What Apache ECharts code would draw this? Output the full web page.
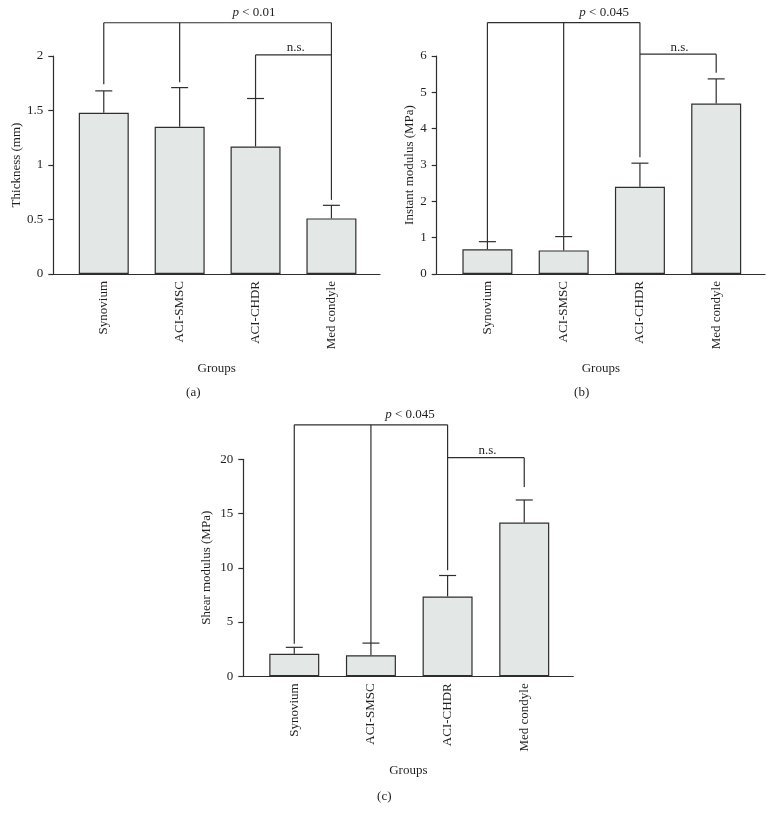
<!DOCTYPE html>
<html><head><meta charset="utf-8">
<script src="https://cdn.jsdelivr.net/npm/echarts@6/dist/echarts.min.js"></script>
<style>html,body{margin:0;padding:0;background:#fff}#c{width:774px;height:822px}</style>
</head><body><div id="c"></div>
<script>
// ---------- data ----------
const groups = ['Synovium', 'ACI-SMSC', 'ACI-CHDR', 'Med condyle'];
const groupPos = [1, 2, 3, 4];

const thicknessMean = [1.48, 1.35, 1.17, 0.51];
const thicknessErrTop = [1.68, 1.71, 1.61, 0.63];
const thicknessTicks = [0, 0.5, 1, 1.5, 2];

const instantMean = [0.68, 0.65, 2.40, 4.69];
const instantErrTop = [0.89, 1.03, 3.05, 5.37];
const instantTicks = [0, 1, 2, 3, 4, 5, 6];

const shearMean = [2.08, 1.93, 7.36, 14.17];
const shearErrTop = [2.67, 3.06, 9.29, 16.25];
const shearTicks = [0, 5, 10, 15, 20];

// significance brackets: level, legs [group position, lower end]
const thicknessSigLevel = 2.305;
const thicknessSigLegs = [[1, 1.74], [2, 1.76], [4, 0.68]];
const thicknessNsLevel = 2.01;
const thicknessNsLegs = [[3, 1.61], [4, 2.01]];

const instantSigLevel = 6.92;
const instantSigLegs = [[1, 0.90], [2, 1.05], [3, 3.21]];
const instantNsLevel = 6.05;
const instantNsLegs = [[3, 6.05], [4, 5.54]];

const shearSigLevel = 23.18;
const shearSigLegs = [[1, 3.0], [2, 3.06], [3, 9.78]];
const shearNsLevel = 20.15;
const shearNsLegs = [[3, 20.15], [4, 17.44]];

const sigTexts = ['p < 0.01', 'p < 0.045', 'p < 0.045'];
const sigTextX = [2.98, 2.53, 2.51];
const nsTextX = [3.53, 3.52, 3.52];

const yNames = ['Thickness (mm)', 'Instant modulus (MPa)', 'Shear modulus (MPa)'];
const panelTags = ['(a)', '(b)', '(c)'];

// ---------- layout ----------
const FONT = '"Liberation Serif", "DejaVu Serif", serif';
const INK = '#2e2e2e';
const TXT = '#1f1f1f';
const grids = [
  {left: 53.3, top: 56, width: 326.7, height: 218},
  {left: 436.7, top: 56, width: 328.3, height: 218},
  {left: 243.3, top: 459.3, width: 330, height: 217}
];
const yNameGaps = [30, 20, 30];

const panels = [
  {mean: thicknessMean, top: thicknessErrTop, ticks: thicknessTicks,
   sigLevel: thicknessSigLevel, sigLegs: thicknessSigLegs, nsLevel: thicknessNsLevel, nsLegs: thicknessNsLegs},
  {mean: instantMean, top: instantErrTop, ticks: instantTicks,
   sigLevel: instantSigLevel, sigLegs: instantSigLegs, nsLevel: instantNsLevel, nsLegs: instantNsLegs},
  {mean: shearMean, top: shearErrTop, ticks: shearTicks,
   sigLevel: shearSigLevel, sigLegs: shearSigLegs, nsLevel: shearNsLevel, nsLegs: shearNsLegs}
];

function bracketSegments(level, legs) {
  const xs = legs.map(l => l[0]);
  const segs = [[Math.min(...xs), level, Math.max(...xs), level]];
  legs.forEach(l => { if (l[1] !== level) segs.push([l[0], level, l[0], l[1]]); });
  return segs;
}

const option = {
  animation: false,
  backgroundColor: '#fff',
  textStyle: {fontFamily: FONT},
  grid: grids.map(g => Object.assign({containLabel: false}, g)),
  xAxis: grids.map((g, i) => ({
    type: 'value', gridIndex: i, min: 0.335, max: 4.64,
    name: 'Groups', nameLocation: 'middle', nameGap: 88,
    nameTextStyle: {fontFamily: FONT, fontSize: 13, color: TXT},
    axisLine: {lineStyle: {color: INK, width: 1.2}},
    axisTick: {show: false},
    splitLine: {show: false},
    axisLabel: {customValues: groupPos, rotate: 90, margin: 7,
      formatter: v => groups[Math.round(v) - 1],
      fontFamily: FONT, fontSize: 13, color: TXT}
  })),
  yAxis: panels.map((p, i) => ({
    type: 'value', gridIndex: i,
    min: p.ticks[0], max: p.ticks[p.ticks.length - 1], interval: p.ticks[1] - p.ticks[0],
    name: yNames[i], nameLocation: 'middle', nameGap: yNameGaps[i],
    nameTextStyle: {fontFamily: FONT, fontSize: 13, color: TXT},
    axisLine: {show: true, lineStyle: {color: INK, width: 1.2}},
    axisTick: {show: true, length: 5, lineStyle: {color: INK, width: 1.2}},
    splitLine: {show: false},
    axisLabel: {margin: 10, fontFamily: FONT, fontSize: 13, color: TXT}
  })),
  graphic: panelTags.map((t, i) => ({
    type: 'text', style: {text: t, font: '13px ' + FONT, fill: TXT, textAlign: 'center', textVerticalAlign: 'middle'},
    x: [193.3, 581.7, 384.3][i], y: [393, 393, 796.7][i]
  })),
  series: []
};

panels.forEach((p, i) => {
  option.series.push({
    type: 'bar', xAxisIndex: i, yAxisIndex: i, barWidth: 50,
    data: groupPos.map((x, k) => [x, p.mean[k]]),
    itemStyle: {color: '#e3e8e6', borderColor: INK, borderWidth: 1.2},
    z: 2
  });
  option.series.push({
    type: 'custom', xAxisIndex: i, yAxisIndex: i,
    data: groupPos.map((x, k) => [x, p.mean[k], p.top[k]]),
    encode: {x: 0, y: [1, 2]},
    renderItem: (params, api) => {
      const b = api.coord([api.value(0), api.value(1)]);
      const t = api.coord([api.value(0), api.value(2)]);
      const st = {stroke: INK, lineWidth: 1.2};
      return {type: 'group', children: [
        {type: 'line', shape: {x1: b[0], y1: b[1], x2: t[0], y2: t[1]}, style: st},
        {type: 'line', shape: {x1: t[0] - 8.5, y1: t[1], x2: t[0] + 8.5, y2: t[1]}, style: st}
      ]};
    },
    z: 3
  });
  const segs = bracketSegments(p.sigLevel, p.sigLegs).concat(bracketSegments(p.nsLevel, p.nsLegs));
  option.series.push({
    type: 'custom', xAxisIndex: i, yAxisIndex: i, clip: false,
    data: segs,
    encode: {x: [0, 2], y: [1, 3]},
    renderItem: (params, api) => {
      const a = api.coord([api.value(0), api.value(1)]);
      const b = api.coord([api.value(2), api.value(3)]);
      return {type: 'line', shape: {x1: a[0], y1: a[1], x2: b[0], y2: b[1]},
        style: {stroke: INK, lineWidth: 1.2}};
    },
    z: 4
  });
  option.series.push({
    type: 'custom', xAxisIndex: i, yAxisIndex: i, clip: false,
    data: [[sigTextX[i], p.sigLevel, 0], [nsTextX[i], p.nsLevel, 1]],
    encode: {x: 0, y: 1},
    renderItem: (params, api) => {
      const c = api.coord([api.value(0), api.value(1)]);
      const isSig = api.value(2) === 0;
      const txt = isSig ? sigTexts[i] : 'n.s.';
      if (isSig) {
        const rest = txt.slice(1);
        return {type: 'text', x: c[0], y: c[1] - 10,
          style: {text: '{i|p}' + rest, textAlign: 'center', textVerticalAlign: 'middle',
            font: '13px ' + FONT, fill: TXT,
            rich: {i: {fontStyle: 'italic', fontFamily: FONT, fontSize: 13, fill: TXT}}}};
      }
      return {type: 'text', x: c[0], y: c[1] - 7,
        style: {text: txt, textAlign: 'center', textVerticalAlign: 'middle', font: '13px ' + FONT, fill: TXT}};
    },
    z: 5
  });
});

const chart = echarts.init(document.getElementById('c'), null, {renderer: 'canvas'});
chart.setOption(option);
</script>
</body></html>
